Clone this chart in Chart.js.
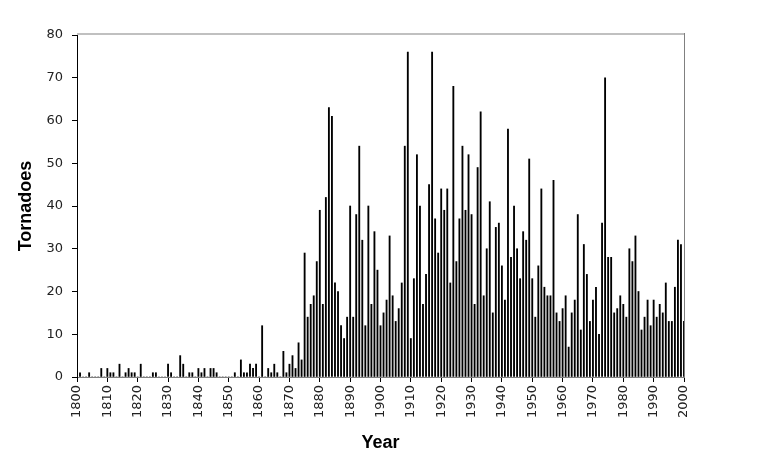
<!DOCTYPE html>
<html>
<head>
<meta charset="utf-8">
<script src="https://cdn.jsdelivr.net/npm/chart.js@4/dist/chart.umd.min.js"></script>
<style>
  html, body { margin: 0; padding: 0; background: #fff; }
  canvas { display: block; }
</style>
</head>
<body>
<canvas id="c" width="758" height="472"></canvas>
<script>
// Categories: years 1800..2000
const firstYear = 1800;
const lastYear = 2000;
const years = [];
for (let y = firstYear; y <= lastYear; y++) years.push(String(y));

// Tornadoes per year
const tornadoes = [
  // 1800s
  0, 1, 0, 0, 1, 0, 0, 0, 2, 0,
  // 1810s
  2, 1, 1, 0, 3, 0, 1, 2, 1, 1,
  // 1820s
  0, 3, 0, 0, 0, 1, 1, 0, 0, 0,
  // 1830s
  3, 1, 0, 0, 5, 3, 0, 1, 1, 0,
  // 1840s
  2, 1, 2, 0, 2, 2, 1, 0, 0, 0,
  // 1850s
  0, 0, 1, 0, 4, 1, 1, 3, 2, 3,
  // 1860s
  0, 12, 0, 2, 1, 3, 1, 0, 6, 1,
  // 1870s
  3, 5, 2, 8, 4, 29, 14, 17, 19, 27,
  // 1880s
  39, 17, 42, 63, 61, 22, 20, 12, 9, 14,
  // 1890s
  40, 14, 38, 54, 32, 12, 40, 17, 34, 25,
  // 1900s
  12, 15, 18, 33, 19, 13, 16, 22, 54, 76,
  // 1910s
  9, 23, 52, 40, 17, 24, 45, 76, 37, 29,
  // 1920s
  44, 39, 44, 22, 68, 27, 37, 54, 39, 52,
  // 1930s
  38, 17, 49, 62, 19, 30, 41, 15, 35, 36,
  // 1940s
  26, 18, 58, 28, 40, 30, 23, 34, 32, 51,
  // 1950s
  23, 14, 26, 44, 21, 19, 19, 46, 15, 13,
  // 1960s
  16, 19, 7, 15, 18, 38, 11, 31, 24, 13,
  // 1970s
  18, 21, 10, 36, 70, 28, 28, 15, 16, 19,
  // 1980s
  17, 14, 30, 27, 33, 20, 11, 14, 18, 12,
  // 1990s
  18, 14, 17, 15, 22, 13, 13, 21, 32, 31,
  // 2000
  13
];

const yTicks = { min: 0, max: 80, step: 10 };
const xLabelEvery = 10;
const xTitle = 'Year';
const yTitle = 'Tornadoes';

const plotFrame = {
  id: 'plotFrame',
  afterDraw(chart) {
    const { ctx, chartArea: a } = chart;
    ctx.save();
    ctx.strokeStyle = '#c0c0c0';
    ctx.lineWidth = 2;
    ctx.beginPath();
    ctx.moveTo(a.left, a.top - 1);
    ctx.lineTo(a.right + 1, a.top - 1);
    ctx.stroke();
    ctx.strokeStyle = '#808080';
    ctx.lineWidth = 1;
    ctx.beginPath();
    ctx.moveTo(Math.round(a.right) + 0.5, a.top - 2);
    ctx.lineTo(Math.round(a.right) + 0.5, a.bottom);
    ctx.stroke();
    ctx.restore();
  }
};

new Chart(document.getElementById('c'), {
  type: 'bar',
  data: {
    labels: years,
    datasets: [{
      data: tornadoes,
      backgroundColor: '#000000',
      borderWidth: 0,
      barThickness: 1.2
    }]
  },
  options: {
    responsive: false,
    animation: false,
    events: [],
    layout: { padding: { top: 35, right: 74, left: 0, bottom: 0 } },
    plugins: { legend: { display: false }, tooltip: { enabled: false } },
    scales: {
      x: {
        type: 'category',
        offset: false,
        afterFit(scale) { scale.height = 95; },
        grid: {
          offset: false,
          drawOnChartArea: false,
          drawTicks: true,
          tickLength: 5,
          tickColor: (ctx) => (ctx.index % xLabelEvery === 0 ? '#000000' : 'rgba(0,0,0,0)')
        },
        border: { display: true, color: '#808080', width: 1 },
        ticks: {
          autoSkip: false,
          minRotation: 90,
          maxRotation: 90,
          padding: 3,
          color: '#222222',
          font: { family: 'DejaVu Sans', size: 13 },
          callback: function (val, idx) {
            const lab = this.getLabelForValue(val);
            return (Number(lab) % xLabelEvery === 0) ? lab : '';
          }
        },
        title: {
          display: true,
          text: xTitle,
          color: '#000000',
          font: { family: 'Liberation Sans', size: 18, weight: 'bold' },
          padding: { top: 4, bottom: 18 }
        }
      },
      y: {
        min: yTicks.min,
        max: yTicks.max,
        afterFit(scale) { scale.width = 77; },
        grid: {
          drawOnChartArea: false,
          drawTicks: true,
          tickLength: 5,
          tickColor: '#000000'
        },
        border: { display: true, color: '#000000', width: 1 },
        ticks: {
          stepSize: yTicks.step,
          padding: 9,
          color: '#222222',
          font: { family: 'DejaVu Sans', size: 13 }
        },
        title: {
          display: true,
          text: yTitle,
          color: '#000000',
          font: { family: 'Liberation Sans', size: 18, weight: 'bold' },
          padding: { top: 15, bottom: 0 }
        }
      }
    }
  },
  plugins: [plotFrame]
});
</script>
</body>
</html>
